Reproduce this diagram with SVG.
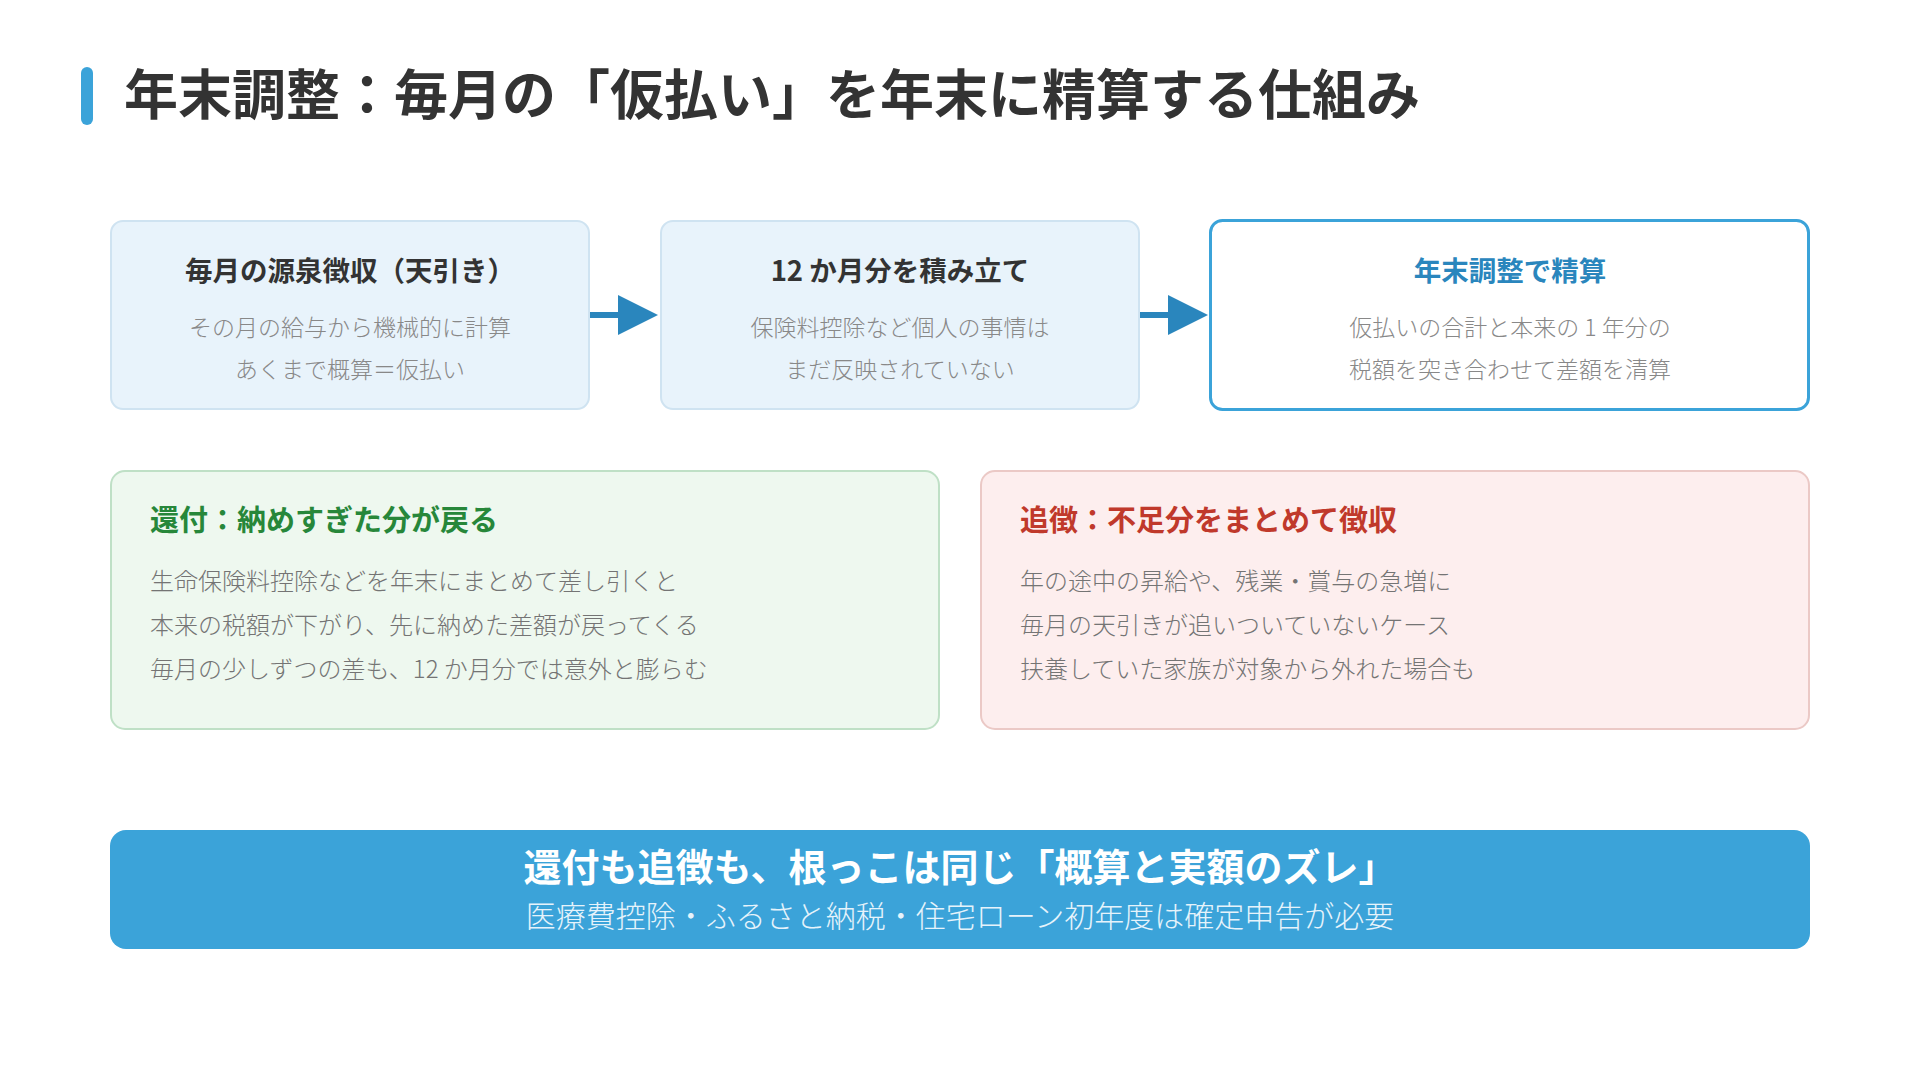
<svg xmlns="http://www.w3.org/2000/svg" width="1920" height="1080" viewBox="0 0 1920 1080">
<defs>
<style>
text{font-family:"Noto Sans CJK JP","Noto Sans",sans-serif}
.ttl{font-size:54px;font-weight:700;fill:#333}
.bh{font-size:27.5px;font-weight:700;fill:#333;text-anchor:middle}
.bs{font-size:23px;font-weight:300;fill:#888;text-anchor:middle}
.lb{fill:#e8f3fb;stroke:#cfe3f1;stroke-width:2}
.gh{font-size:29px;font-weight:700;fill:#27873a}
.rh{font-size:29px;font-weight:700;fill:#c0392b}
.ln{font-size:24px;font-weight:300;fill:#747474}
.conn{stroke:#2a86bd;stroke-width:6;fill:none}
</style>
</defs>
<rect width="1920" height="1080" fill="#fff"/>
<g id="title">
<rect x="81" y="67" width="12" height="58" rx="6" fill="#3ba3d9"/>
<text class="ttl" x="124" y="115">年末調整：毎月の「仮払い」を年末に精算する仕組み</text>
</g>
<g id="connectors">
<line class="conn" x1="590" y1="315" x2="622" y2="315"/>
<path d="M618,295 L658,315 L618,335 Z" fill="#2a86bd"/>
<line class="conn" x1="1140" y1="315" x2="1172" y2="315"/>
<path d="M1168,295 L1208,315 L1168,335 Z" fill="#2a86bd"/>
</g>
<g id="node-withholding">
<rect class="lb" x="111" y="221" width="478" height="188" rx="12"/>
<text class="bh" x="350" y="281">毎月の源泉徴収（天引き）</text>
<text class="bs" x="350" y="336">その月の給与から機械的に計算</text>
<text class="bs" x="350" y="378">あくまで概算＝仮払い</text>
</g>
<g id="node-accumulate">
<rect class="lb" x="661" y="221" width="478" height="188" rx="12"/>
<text class="bh" x="900" y="281">12 か月分を積み立て</text>
<text class="bs" x="900" y="336">保険料控除など個人の事情は</text>
<text class="bs" x="900" y="378">まだ反映されていない</text>
</g>
<g id="node-settle">
<rect x="1210.5" y="220.5" width="598" height="189" rx="12" fill="#fff" stroke="#3ba3d9" stroke-width="3"/>
<text class="bh" x="1510" y="281" style="fill:#2a86bd">年末調整で精算</text>
<text class="bs" x="1510" y="336">仮払いの合計と本来の 1 年分の</text>
<text class="bs" x="1510" y="378">税額を突き合わせて差額を清算</text>
</g>
<g id="node-refund">
<rect x="111" y="471" width="828" height="258" rx="14" fill="#eef8ef" stroke="#bfe0c6" stroke-width="2"/>
<text class="gh" x="150" y="531">還付：納めすぎた分が戻る</text>
<text class="ln" x="150" y="590">生命保険料控除などを年末にまとめて差し引くと</text>
<text class="ln" x="150" y="634">本来の税額が下がり、先に納めた差額が戻ってくる</text>
<text class="ln" x="150" y="678">毎月の少しずつの差も、12 か月分では意外と膨らむ</text>
</g>
<g id="node-additional">
<rect x="981" y="471" width="828" height="258" rx="14" fill="#fdeeee" stroke="#ebc9c6" stroke-width="2"/>
<text class="rh" x="1020" y="531">追徴：不足分をまとめて徴収</text>
<text class="ln" x="1020" y="590">年の途中の昇給や、残業・賞与の急増に</text>
<text class="ln" x="1020" y="634">毎月の天引きが追いついていないケース</text>
<text class="ln" x="1020" y="678">扶養していた家族が対象から外れた場合も</text>
</g>
<g id="banner">
<rect x="110" y="830" width="1700" height="119" rx="16" fill="#3ba3d9"/>
<text x="960" y="881" text-anchor="middle" font-size="38" font-weight="700" fill="#fff">還付も追徴も、根っこは同じ「概算と実額のズレ」</text>
<text x="960" y="927" text-anchor="middle" font-size="30" font-weight="300" fill="#e6f3fb">医療費控除・ふるさと納税・住宅ローン初年度は確定申告が必要</text>
</g>
</svg>
